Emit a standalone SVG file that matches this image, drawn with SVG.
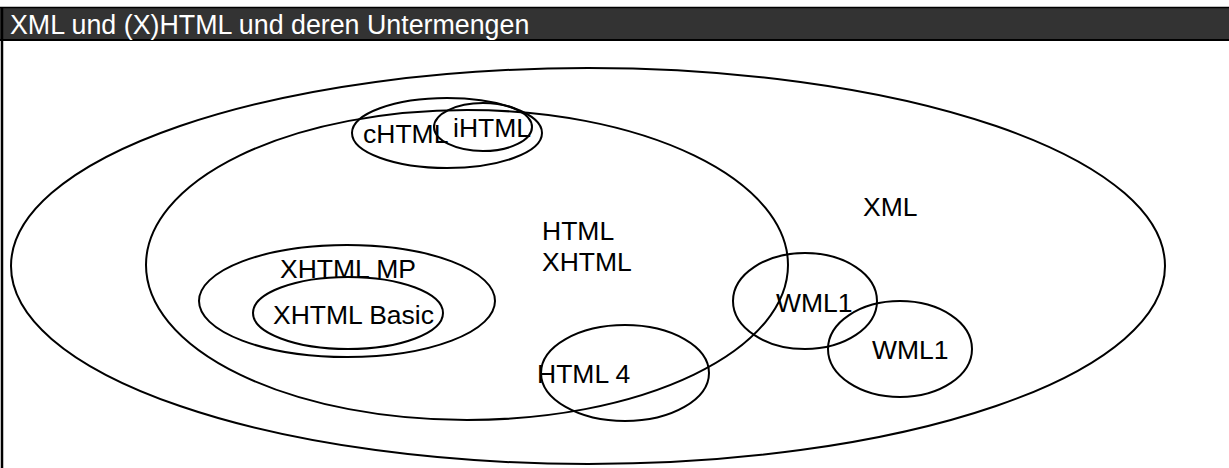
<svg xmlns="http://www.w3.org/2000/svg" width="1229" height="468" viewBox="0 0 1229 468">
<style>
.e{fill:none;stroke:#000;stroke-width:2}
.t{font-family:"Liberation Sans",Arial,sans-serif;font-size:26.5px;fill:#000}
.h{font-family:"Liberation Sans",Arial,sans-serif;font-size:26.8px;fill:#fff}
</style>
<rect x="0" y="0" width="1229" height="468" fill="#fff"/>
<g id="frame">
<rect x="0" y="7" width="1229" height="33" fill="#333"/>
<line x1="0" y1="7.5" x2="1229" y2="7.5" stroke="#000" stroke-width="1.5"/>
<line x1="0" y1="40" x2="1229" y2="40" stroke="#000" stroke-width="2"/>
<line x1="2" y1="7" x2="2" y2="468" stroke="#000" stroke-width="2.5"/>
<text class="h" x="10" y="34">XML und (X)HTML und deren Untermengen</text>
</g>
<g id="xml"><ellipse class="e" cx="588" cy="266" rx="577" ry="198"/><text class="t" x="863" y="216">XML</text></g>
<g id="html"><ellipse class="e" cx="467" cy="265" rx="321" ry="155"/><text class="t" x="542" y="240">HTML</text><text class="t" x="542" y="271">XHTML</text></g>
<g id="chtml"><ellipse class="e" cx="447" cy="133" rx="95" ry="35"/><text class="t" x="363" y="143">cHTML</text></g>
<g id="ihtml"><ellipse class="e" cx="483" cy="127" rx="49" ry="24"/><text class="t" x="453" y="137">iHTML</text></g>
<g id="xhtmlmp"><ellipse class="e" cx="347" cy="301" rx="148" ry="56"/><text class="t" x="280" y="278">XHTML MP</text></g>
<g id="xhtmlbasic"><ellipse class="e" cx="348" cy="313" rx="95" ry="36"/><text class="t" x="273" y="324">XHTML Basic</text></g>
<g id="html4"><ellipse class="e" cx="625" cy="373" rx="84" ry="48"/><text class="t" x="537" y="383">HTML 4</text></g>
<g id="wml1a"><ellipse class="e" cx="805" cy="301" rx="72" ry="48"/><text class="t" x="776" y="312">WML1</text></g>
<g id="wml1b"><ellipse class="e" cx="900" cy="349" rx="72" ry="48"/><text class="t" x="872" y="359">WML1</text></g>
<g id="connectors"></g>
</svg>
